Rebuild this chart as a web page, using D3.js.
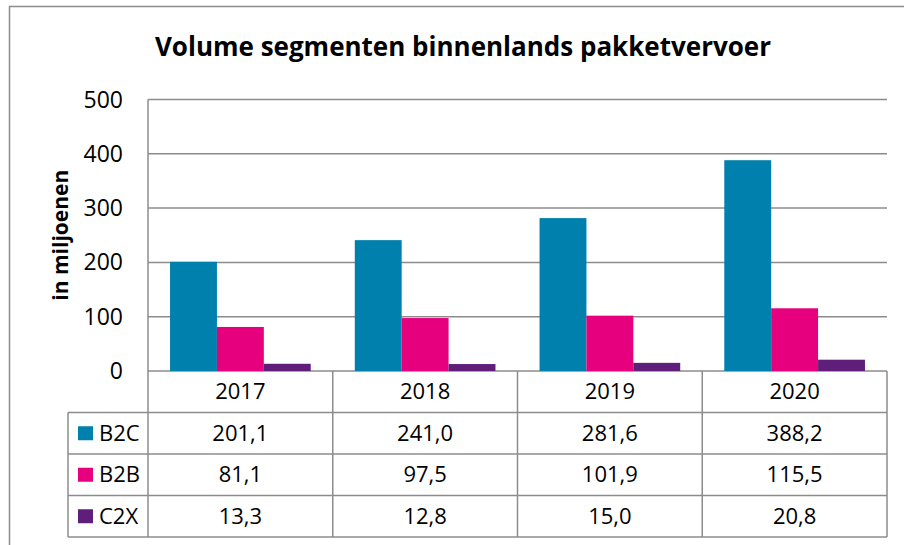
<!DOCTYPE html>
<html>
<head>
<meta charset="utf-8">
<script src="https://cdn.jsdelivr.net/npm/d3@7"></script>
<style>
  body { margin: 0; background: #fff; }
  svg { display: block; font-family: "Open Sans", sans-serif; }
</style>
</head>
<body>
<div id="chart"></div>
<script>
// data
var years = ["2017", "2018", "2019", "2020"];
var seriesNames = ["B2C", "B2B", "C2X"];
var b2c = [201.1, 241.0, 281.6, 388.2];
var b2b = [81.1, 97.5, 101.9, 115.5];
var c2x = [13.3, 12.8, 15.0, 20.8];
var yTicks = [0, 100, 200, 300, 400, 500];
var colors = ["#0080ad", "#e6007e", "#5f1e7a"];

var series = [b2c, b2b, c2x];

// set the dimensions
var width = 904, height = 545;
var plot = {left: 148, right: 887, top: 99.5, bottom: 371};
var rowH = 41.5;
var gridColor = "#8c8c8c";

var svg = d3.select("#chart")
  .append("svg")
  .attr("width", width)
  .attr("height", height);

// outer chart border
svg.append("rect")
  .attr("x", 9.5).attr("y", 6.5)
  .attr("width", 1000).attr("height", 1000)
  .attr("fill", "none")
  .attr("stroke", "#8c8c8c")
  .attr("stroke-width", 1.5);

// title
svg.append("text")
  .attr("x", 463).attr("y", 56)
  .attr("text-anchor", "middle")
  .style("font-size", "26px")
  .style("font-weight", "bold")
  .text("Volume segmenten binnenlands pakketvervoer");

// scales
var x0 = d3.scaleBand()
  .domain(years)
  .range([plot.left, plot.right]);

var x1 = d3.scaleBand()
  .domain(seriesNames)
  .range([0, x0.bandwidth()])
  .paddingOuter(0.47);

var y = d3.scaleLinear()
  .domain([0, 500])
  .range([plot.bottom, plot.top]);

// gridlines
svg.append("g")
  .selectAll("line")
  .data(yTicks)
  .enter()
  .append("line")
  .attr("x1", plot.left).attr("x2", plot.right)
  .attr("y1", function(d) { return y(d); })
  .attr("y2", function(d) { return y(d); })
  .attr("stroke", gridColor)
  .attr("stroke-width", 1.5);

// left axis line
svg.append("line")
  .attr("x1", plot.left).attr("x2", plot.left)
  .attr("y1", plot.top).attr("y2", plot.bottom)
  .attr("stroke", gridColor)
  .attr("stroke-width", 1.5);

// y tick labels
svg.append("g")
  .selectAll("text")
  .data(yTicks)
  .enter()
  .append("text")
  .attr("x", 123)
  .attr("y", function(d) { return y(d); })
  .attr("dy", "0.35em")
  .attr("text-anchor", "end")
  .style("font-size", "23px")
  .text(function(d) { return d; });

// y axis title
svg.append("text")
  .attr("transform", "translate(68," + ((plot.top + plot.bottom) / 2) + ") rotate(-90)")
  .attr("text-anchor", "middle")
  .style("font-size", "21px")
  .style("font-weight", "bold")
  .text("in miljoenen");

// bars
seriesNames.forEach(function(name, si) {
  svg.append("g")
    .selectAll("rect")
    .data(series[si])
    .enter()
    .append("rect")
    .attr("x", function(d, i) { return x0(years[i]) + x1(name); })
    .attr("y", function(d) { return y(d); })
    .attr("width", x1.bandwidth())
    .attr("height", function(d) { return y(0) - y(d); })
    .attr("fill", colors[si]);
});

// data table
var tableLeft = 68;
var table = svg.append("g");

// year header row
table.selectAll("text.year")
  .data(years)
  .enter()
  .append("text")
  .attr("class", "year")
  .attr("x", function(d) { return x0(d) + x0.bandwidth() / 2; })
  .attr("y", plot.bottom + rowH / 2)
  .attr("dy", "0.35em")
  .attr("text-anchor", "middle")
  .style("font-size", "22px")
  .text(function(d) { return d; });

// value rows
seriesNames.forEach(function(name, si) {
  var rowY = plot.bottom + rowH * (si + 1);
  table.append("rect")
    .attr("x", tableLeft + 10).attr("y", rowY + rowH / 2 - 7)
    .attr("width", 15).attr("height", 14)
    .attr("fill", colors[si]);
  table.append("text")
    .attr("x", tableLeft + 31).attr("y", rowY + rowH / 2)
    .attr("dy", "0.35em")
    .style("font-size", "22px")
    .text(name);
  table.selectAll("text.v" + si)
    .data(series[si])
    .enter()
    .append("text")
    .attr("class", "v" + si)
    .attr("x", function(d, i) { return x0(years[i]) + x0.bandwidth() / 2; })
    .attr("y", rowY + rowH / 2)
    .attr("dy", "0.35em")
    .attr("text-anchor", "middle")
    .style("font-size", "22px")
    .text(function(d) { return d.toFixed(1).replace(".", ","); });
});

// table lines
var tableBottom = plot.bottom + rowH * 4;
var hLines = [1, 2, 3, 4];
table.selectAll("line.h")
  .data(hLines)
  .enter()
  .append("line")
  .attr("x1", tableLeft).attr("x2", plot.right)
  .attr("y1", function(d) { return plot.bottom + rowH * d; })
  .attr("y2", function(d) { return plot.bottom + rowH * d; })
  .attr("stroke", gridColor)
  .attr("stroke-width", 1.5);

var vLines = years.map(function(d) { return x0(d); }).concat([plot.right]);
table.selectAll("line.v")
  .data(vLines)
  .enter()
  .append("line")
  .attr("x1", function(d) { return d; }).attr("x2", function(d) { return d; })
  .attr("y1", plot.bottom).attr("y2", tableBottom)
  .attr("stroke", gridColor)
  .attr("stroke-width", 1.5);

table.append("line")
  .attr("x1", tableLeft).attr("x2", tableLeft)
  .attr("y1", plot.bottom + rowH).attr("y2", tableBottom)
  .attr("stroke", gridColor)
  .attr("stroke-width", 1.5);
</script>
</body>
</html>
